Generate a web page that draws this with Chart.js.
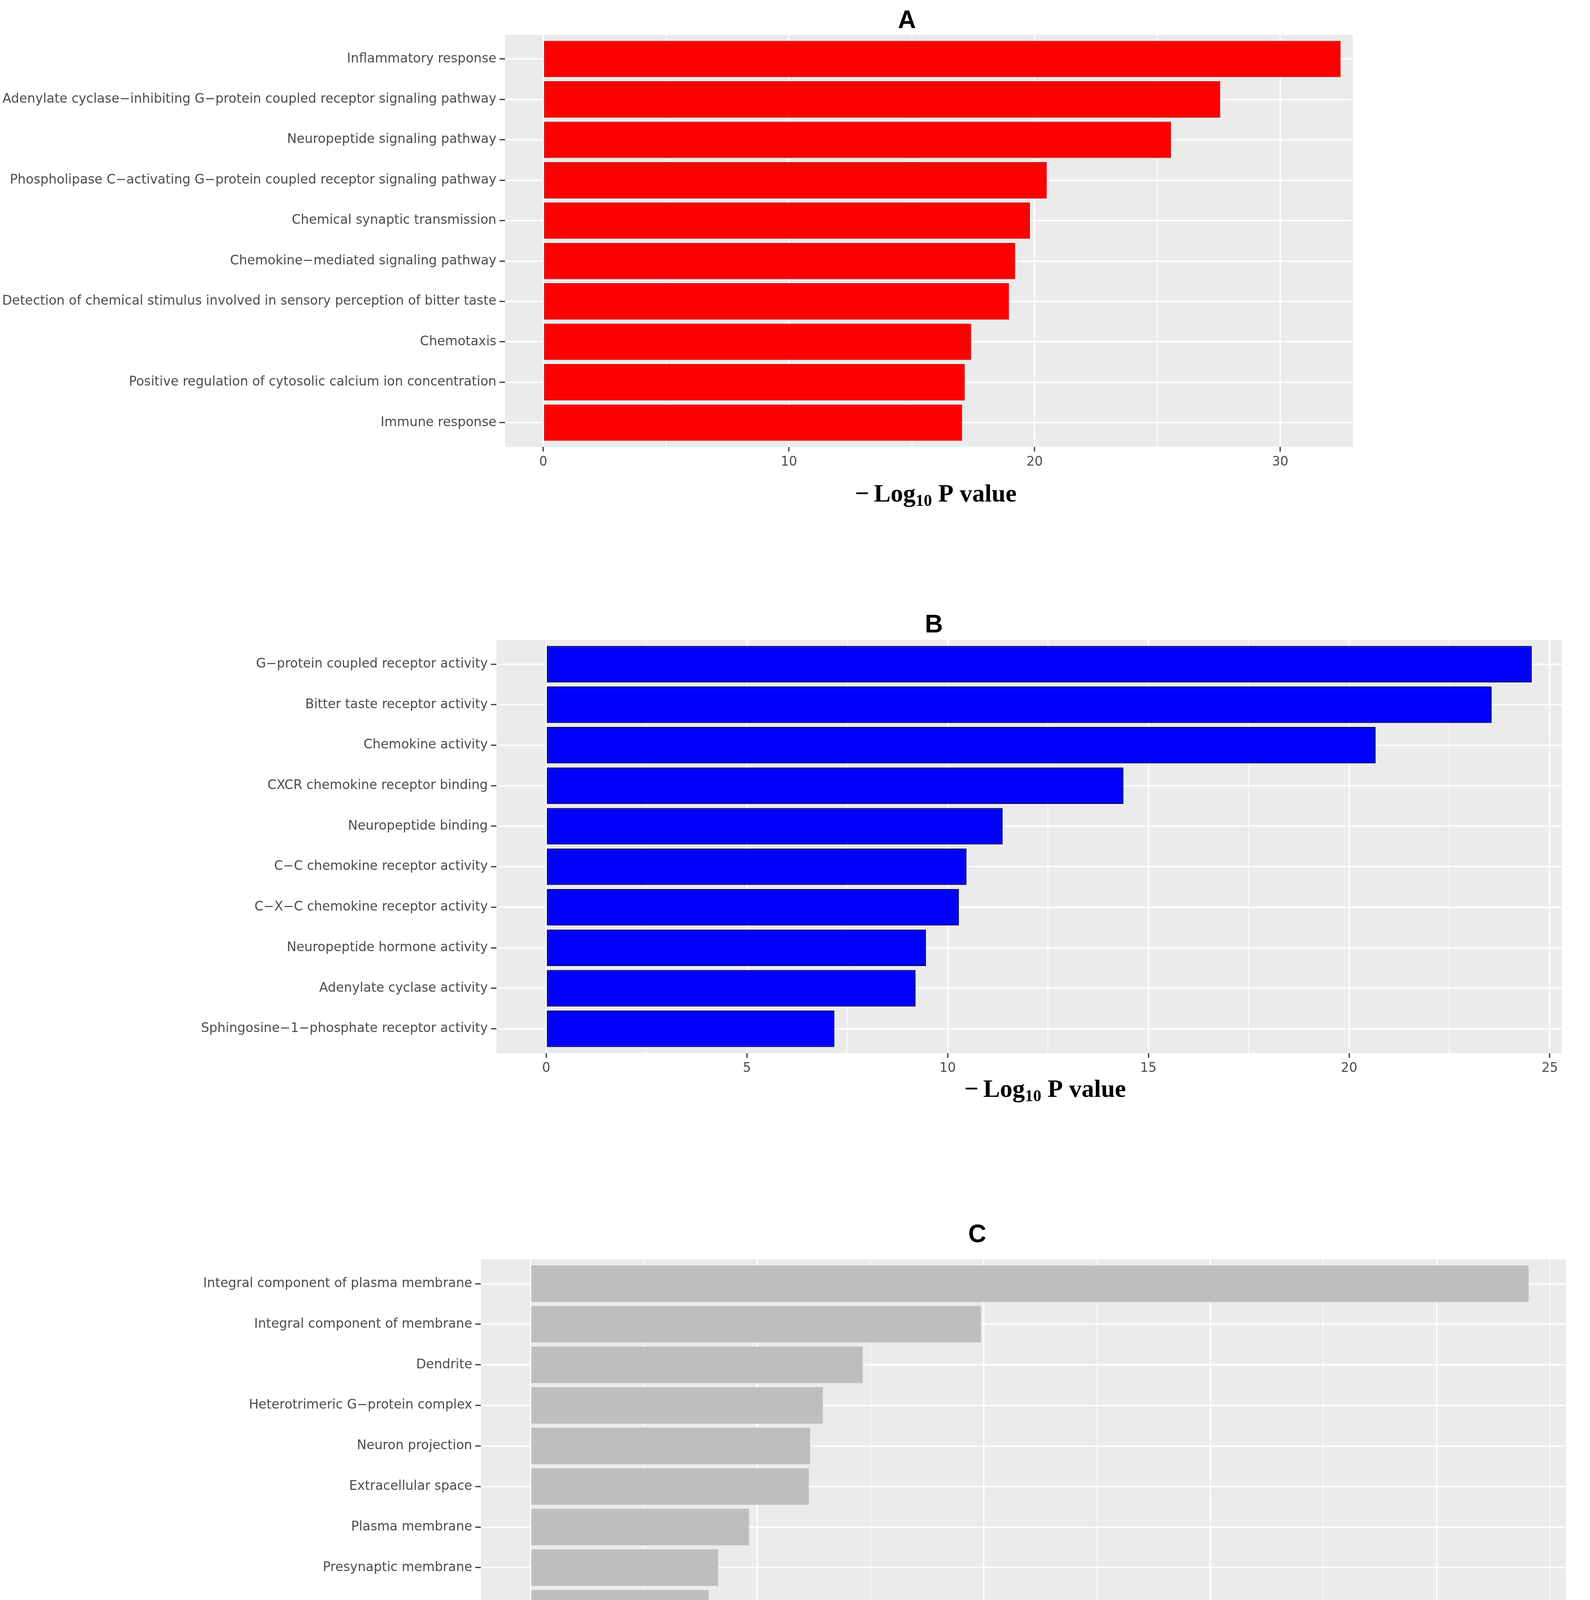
<!DOCTYPE html>
<html>
<head>
<meta charset="utf-8">
<title>GO enrichment</title>
<script src="https://cdn.jsdelivr.net/npm/chart.js@4.4.1/dist/chart.umd.min.js"></script>
<style>
  html, body { margin: 0; padding: 0; background: #ffffff; }
  body { width: 4071px; height: 4444px; position: relative; overflow: hidden; }
  .panel { position: absolute; left: 0; width: 4071px; }
  .panel canvas { display: block; }
</style>
</head>
<body>
<div class="panel" style="top:0;height:1450px"><canvas id="chartA"></canvas></div>
<div class="panel" style="top:1450px;height:1550px"><canvas id="chartB"></canvas></div>
<div class="panel" style="top:3000px;height:1444px"><canvas id="chartC"></canvas></div>
<script>
// A: biological process terms, top to bottom
const processTerms = [
  "Inflammatory response",
  "Adenylate cyclase\u2212inhibiting G\u2212protein coupled receptor signaling pathway",
  "Neuropeptide signaling pathway",
  "Phospholipase C\u2212activating G\u2212protein coupled receptor signaling pathway",
  "Chemical synaptic transmission",
  "Chemokine\u2212mediated signaling pathway",
  "Detection of chemical stimulus involved in sensory perception of bitter taste",
  "Chemotaxis",
  "Positive regulation of cytosolic calcium ion concentration",
  "Immune response",
];
const processValues = [32.46, 27.56, 25.55, 20.5, 19.81, 19.21, 18.96, 17.42, 17.16, 17.05];

// B: molecular function terms
const functionTerms = [
  "G\u2212protein coupled receptor activity",
  "Bitter taste receptor activity",
  "Chemokine activity",
  "CXCR chemokine receptor binding",
  "Neuropeptide binding",
  "C\u2212C chemokine receptor activity",
  "C\u2212X\u2212C chemokine receptor activity",
  "Neuropeptide hormone activity",
  "Adenylate cyclase activity",
  "Sphingosine\u22121\u2212phosphate receptor activity",
];
const functionValues = [24.55, 23.55, 20.66, 14.38, 11.37, 10.47, 10.28, 9.46, 9.2, 7.18];

// C: cellular component terms
const componentTerms = [
  "Integral component of plasma membrane",
  "Integral component of membrane",
  "Dendrite",
  "Heterotrimeric G\u2212protein complex",
  "Neuron projection",
  "Extracellular space",
  "Plasma membrane",
  "Presynaptic membrane",
  "External side of plasma membrane",
  "Cell",
];
const componentValues = [22.03, 9.94, 7.33, 6.45, 6.17, 6.14, 4.82, 4.14, 3.93, 3.87];

const panelLetters = ["A", "B", "C"];
// axis title pieces: minus, "Log", subscript, rest
const axisTitleParts = ["\u2212", "Log", "10", " P value"];

const LABEL_FONT = { family: "'DejaVu Sans', sans-serif", size: 33 };
const TEXT_GREY = "#4D4D4D";
const TICK_GREY = "#333333";

// layout in page pixels
const panels = [
  {
    id: "chartA", top: 0, height: 1450, letter: panelLetters[0],
    terms: processTerms, values: processValues,
    fill: "#FF0000", border: "#C80000", borderWidth: 2,
    area: { left: 1293, right: 3464, top: 89, bottom: 1144 },
    xMin: -1.56, xMax: 32.96, step: 5, major: 10,
    letterAt: [2322, 72], titleAt: [2396, 1284],
  },
  {
    id: "chartB", top: 1450, height: 1550, letter: panelLetters[1],
    terms: functionTerms, values: functionValues,
    fill: "#0000FF", border: "#00007A", borderWidth: 3,
    area: { left: 1271, right: 3999, top: 1638, bottom: 2696 },
    xMin: -1.24, xMax: 25.3, step: 2.5, major: 5,
    letterAt: [2391, 1619], titleAt: [2676, 2808],
  },
  {
    id: "chartC", top: 3000, height: 1444, letter: panelLetters[2],
    terms: componentTerms, values: componentValues,
    fill: "#BEBEBE", border: "#BEBEBE", borderWidth: 0,
    area: { left: 1231, right: 4009, top: 3224, bottom: 4283 },
    xMin: -1.1, xMax: 22.85, step: 2.5, major: 5,
    letterAt: [2502, 3180], titleAt: [2727, 4396],
  },
];

function panelDecor(p) {
  return {
    id: "panelDecor",
    beforeDraw(chart) {
      const { ctx, chartArea: a } = chart;
      ctx.save();
      ctx.fillStyle = "#EBEBEB";
      ctx.fillRect(a.left, a.top, a.right - a.left, a.bottom - a.top);
      ctx.restore();
    },
    afterDraw(chart) {
      const ctx = chart.ctx;
      ctx.save();
      ctx.fillStyle = "#000000";
      ctx.textBaseline = "alphabetic";

      // panel letter
      ctx.textAlign = "center";
      ctx.font = "bold 64px 'Liberation Sans Narrow', 'Liberation Sans', sans-serif";
      ctx.fillText(p.letter, p.letterAt[0], p.letterAt[1] - p.top);

      // -Log10 P value with subscript
      const mainFont = "bold 64px 'Liberation Serif', 'Times New Roman', serif";
      const subFont = "bold 42px 'Liberation Serif', 'Times New Roman', serif";
      const pieces = [
        { text: axisTitleParts[0], font: mainFont, dy: 0, gap: 12 },
        { text: axisTitleParts[1], font: mainFont, dy: 0, gap: 0 },
        { text: axisTitleParts[2], font: subFont, dy: 11, gap: 0 },
        { text: axisTitleParts[3], font: mainFont, dy: 0, gap: 0 },
      ];
      let total = 0;
      pieces.forEach((pc) => {
        ctx.font = pc.font;
        pc.w = ctx.measureText(pc.text).width;
        total += pc.w + pc.gap;
      });
      let x = p.titleAt[0] - total / 2;
      const baseY = p.titleAt[1] - p.top;
      ctx.textAlign = "left";
      pieces.forEach((pc) => {
        ctx.font = pc.font;
        ctx.fillText(pc.text, x, baseY + pc.dy);
        x += pc.w + pc.gap;
      });
      ctx.restore();
    },
  };
}

function makeChart(p) {
  const canvas = document.getElementById(p.id);
  const localTop = p.area.top - p.top;
  const localBottom = p.area.bottom - p.top;
  const isMajor = (v) => Math.abs(v / p.major - Math.round(v / p.major)) < 1e-6;

  return new Chart(canvas, {
    type: "bar",
    data: {
      datasets: [
        {
          data: p.values.map((v, i) => ({ x: v, y: i })),
          backgroundColor: p.fill,
          borderColor: p.border,
          borderWidth: p.borderWidth,
          borderSkipped: false,
          barPercentage: 0.9,
          categoryPercentage: 1,
        },
      ],
    },
    options: {
      indexAxis: "y",
      responsive: true,
      maintainAspectRatio: false,
      animation: false,
      devicePixelRatio: 1,
      events: [],
      layout: {
        padding: { top: localTop, right: 4071 - p.area.right, left: 0, bottom: 0 },
      },
      plugins: {
        legend: { display: false },
        tooltip: { enabled: false },
        title: { display: false },
      },
      scales: {
        x: {
          type: "linear",
          position: "bottom",
          min: p.xMin,
          max: p.xMax,
          afterFit: (scale) => {
            scale.height = p.height - localBottom;
          },
          border: { display: false },
          grid: {
            color: "#FFFFFF",
            lineWidth: (c) => (c.tick && isMajor(c.tick.value) ? 3.4 : 1.9),
            tickColor: (c) => (c.tick && isMajor(c.tick.value) ? TICK_GREY : "rgba(0,0,0,0)"),
            tickLength: 12,
            tickWidth: 3,
            offset: false,
          },
          ticks: {
            stepSize: p.step,
            includeBounds: false,
            autoSkip: false,
            maxRotation: 0,
            padding: 8,
            color: TEXT_GREY,
            font: LABEL_FONT,
            callback: (v) => (isMajor(v) ? String(v) : ""),
          },
        },
        y: {
          type: "linear",
          position: "left",
          reverse: true,
          offset: false,
          min: -0.6,
          max: p.terms.length - 0.4,
          afterFit: (scale) => {
            scale.width = p.area.left;
          },
          border: { display: false },
          grid: {
            color: "#FFFFFF",
            lineWidth: 3.4,
            tickColor: TICK_GREY,
            tickLength: 14,
            tickWidth: 3,
            offset: false,
          },
          ticks: {
            stepSize: 1,
            includeBounds: false,
            autoSkip: false,
            padding: 8,
            color: TEXT_GREY,
            font: LABEL_FONT,
            callback: (v) => (Number.isInteger(v) && p.terms[v] !== undefined ? p.terms[v] : ""),
          },
        },
      },
    },
    plugins: [panelDecor(p)],
  });
}

panels.forEach(makeChart);
</script>
</body>
</html>
